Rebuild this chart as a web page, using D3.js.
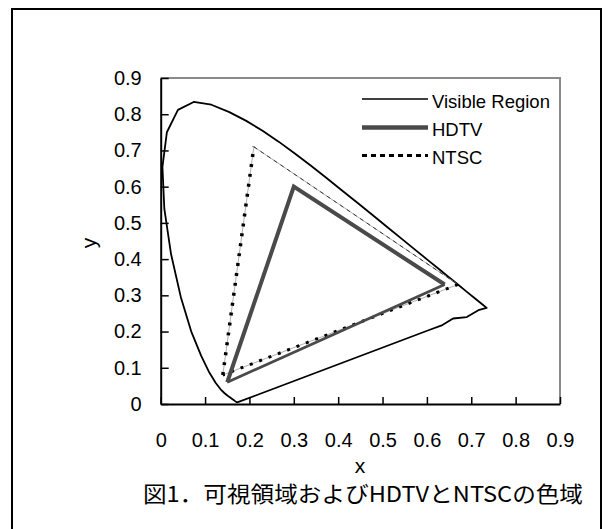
<!doctype html>
<html>
  <head>
    <meta charset="utf-8">
    <title>CIE gamut</title>
    <script src="https://cdnjs.cloudflare.com/ajax/libs/d3/7.8.5/d3.min.js"></script>
    <style>
      body { margin: 0; background: #fff; }
      svg text { font-family: "Liberation Sans", Arial, sans-serif; fill: #000; }
    </style>
  </head>
  <body>
    <svg id="chart" width="614" height="529"></svg>
    <script>
      // spectral locus (CIE 1931 xy) from 380nm round to 700nm, then the purple edge back
      var visibleX = [0.1741, 0.1733, 0.1714, 0.1689, 0.1669, 0.1644, 0.1611, 0.1566, 0.1510, 0.1440,
                      0.1355, 0.1241, 0.1096, 0.0913, 0.0687, 0.0454, 0.0235, 0.0082, 0.0039, 0.0139,
                      0.0389, 0.0743, 0.1142, 0.1547, 0.1929, 0.2296, 0.2658, 0.3016, 0.3373, 0.3731,
                      0.4087, 0.4441, 0.4788, 0.5125, 0.5448, 0.5752, 0.6029, 0.6270, 0.6482, 0.6658,
                      0.6915, 0.7079, 0.7190, 0.7260, 0.7347, 0.716, 0.690, 0.659, 0.635, 0.602, 0.1741];
      var visibleY = [0.0050, 0.0048, 0.0051, 0.0069, 0.0086, 0.0109, 0.0138, 0.0177, 0.0227, 0.0297,
                      0.0399, 0.0578, 0.0868, 0.1327, 0.2007, 0.2950, 0.4127, 0.5384, 0.6548, 0.7502,
                      0.8120, 0.8338, 0.8262, 0.8059, 0.7816, 0.7543, 0.7243, 0.6923, 0.6589, 0.6245,
                      0.5896, 0.5547, 0.5202, 0.4866, 0.4544, 0.4242, 0.3965, 0.3725, 0.3514, 0.3340,
                      0.3083, 0.2920, 0.2809, 0.2740, 0.2653, 0.259, 0.240, 0.236, 0.218, 0.203, 0.0050];

      // primaries: blue, green, red
      var hdtv = [[0.15, 0.06], [0.30, 0.60], [0.64, 0.33]];
      var ntsc = [[0.14, 0.08], [0.21, 0.71], [0.67, 0.33]];

      var ticks = [0, 0.1, 0.2, 0.3, 0.4, 0.5, 0.6, 0.7, 0.8, 0.9];
      var tickLabels = ["0", "0.1", "0.2", "0.3", "0.4", "0.5", "0.6", "0.7", "0.8", "0.9"];
      var legendNames = ["Visible Region", "HDTV", "NTSC"];
      var caption = "図1．可視領域およびHDTVとNTSCの色域";

      var svg = d3.select("#chart");

      // outer frame
      svg.append("rect")
         .attr("x", 12).attr("y", 9)
         .attr("width", 589).attr("height", 540)
         .attr("fill", "none").attr("stroke", "#000").attr("stroke-width", 2);

      var x = d3.scaleLinear().domain([0, 0.9]).range([160.7, 560]);
      var y = d3.scaleLinear().domain([0, 0.9]).range([404, 78]);

      // top / right border of plot area
      svg.append("path")
         .attr("d", "M" + x(0) + "," + y(0.9) + "H" + x(0.9) + "V" + y(0))
         .attr("fill", "none").attr("stroke", "#8a8a8a").attr("stroke-width", 2);

      var fmt = function(d) { return tickLabels[ticks.indexOf(d)]; };

      var xAxis = svg.append("g")
         .attr("transform", "translate(0," + y(0) + ")")
         .call(d3.axisBottom(x).tickValues(ticks).tickFormat(fmt)
               .tickSize(-7).tickSizeOuter(0).tickPadding(29));

      var yAxis = svg.append("g")
         .attr("transform", "translate(" + x(0) + ",0)")
         .call(d3.axisLeft(y).tickValues(ticks).tickFormat(fmt)
               .tickSize(-8).tickSizeOuter(0).tickPadding(19));

      [xAxis, yAxis].forEach(function(g) {
        g.select(".domain").attr("stroke", "#000").attr("stroke-width", 2);
        g.selectAll(".tick line").attr("stroke", "#000").attr("stroke-width", 1.5);
        g.selectAll(".tick text")
         .attr("font-family", "Liberation Sans, Arial, sans-serif")
         .attr("font-size", 20).attr("fill", "#000");
      });

      // visible region
      var locus = visibleX.map(function(v, i) { return [v, visibleY[i]]; });
      var line = d3.line().x(function(d) { return x(d[0]); }).y(function(d) { return y(d[1]); });

      svg.append("path")
         .attr("d", line(locus))
         .attr("fill", "none").attr("stroke", "#000")
         .attr("stroke-width", 1.8).attr("stroke-linejoin", "round");

      // NTSC
      var ntscClosed = ntsc.concat([ntsc[0]]);
      svg.append("path")
         .attr("d", line(ntscClosed))
         .attr("fill", "none").attr("stroke", "#999").attr("stroke-width", 0.8);
      svg.append("path")
         .attr("d", line([ntsc[0], ntsc[1]]))
         .attr("fill", "none").attr("stroke", "#000")
         .attr("stroke-width", 3.5).attr("stroke-dasharray", "3,7");
      svg.append("path")
         .attr("d", line([ntsc[1], ntsc[2]]))
         .attr("fill", "none").attr("stroke", "#333")
         .attr("stroke-width", 1).attr("stroke-dasharray", "4,4");
      svg.append("path")
         .attr("d", line([ntsc[2], ntsc[0]]))
         .attr("fill", "none").attr("stroke", "#000")
         .attr("stroke-width", 3).attr("stroke-dasharray", "3,7");

      // HDTV
      svg.append("path")
         .attr("d", line([hdtv[0], hdtv[1], hdtv[2]]))
         .attr("fill", "none").attr("stroke", "#4a4a4a")
         .attr("stroke-width", 4).attr("stroke-linejoin", "miter");
      svg.append("path")
         .attr("d", line([hdtv[2], hdtv[0]]))
         .attr("fill", "none").attr("stroke", "#4a4a4a")
         .attr("stroke-width", 2.8);

      // legend
      var legendY = [99, 127.5, 155.5];
      var legend = svg.append("g");
      legendNames.forEach(function(name, i) {
        var l = legend.append("line")
           .attr("x1", 362).attr("x2", 428)
           .attr("y1", legendY[i]).attr("y2", legendY[i]);
        if (i === 0) l.attr("stroke", "#000").attr("stroke-width", 1.5);
        if (i === 1) l.attr("stroke", "#4a4a4a").attr("stroke-width", 4.5);
        if (i === 2) l.attr("stroke", "#000").attr("stroke-width", 3).attr("stroke-dasharray", "5,4");
        legend.append("text")
           .attr("x", 432).attr("y", legendY[i] + 3)
           .attr("dy", "0.32em")
           .attr("font-size", 18.5)
           .text(name);
      });

      // axis titles
      svg.append("text")
         .attr("x", 360).attr("y", 466).attr("dy", "0.35em")
         .attr("text-anchor", "middle").attr("font-size", 21)
         .text("x");
      svg.append("text")
         .attr("transform", "translate(89,243) rotate(-90)")
         .attr("dy", "0.35em")
         .attr("text-anchor", "middle").attr("font-size", 21)
         .text("y");

      // caption
      svg.append("text")
         .attr("x", 143).attr("y", 494).attr("dy", "0.38em")
         .attr("font-size", 22)
         .attr("textLength", 440).attr("lengthAdjust", "spacingAndGlyphs")
         .style("font-family", "'Noto Sans CJK JP', sans-serif")
         .text(caption);
    </script>
  </body>
</html>
